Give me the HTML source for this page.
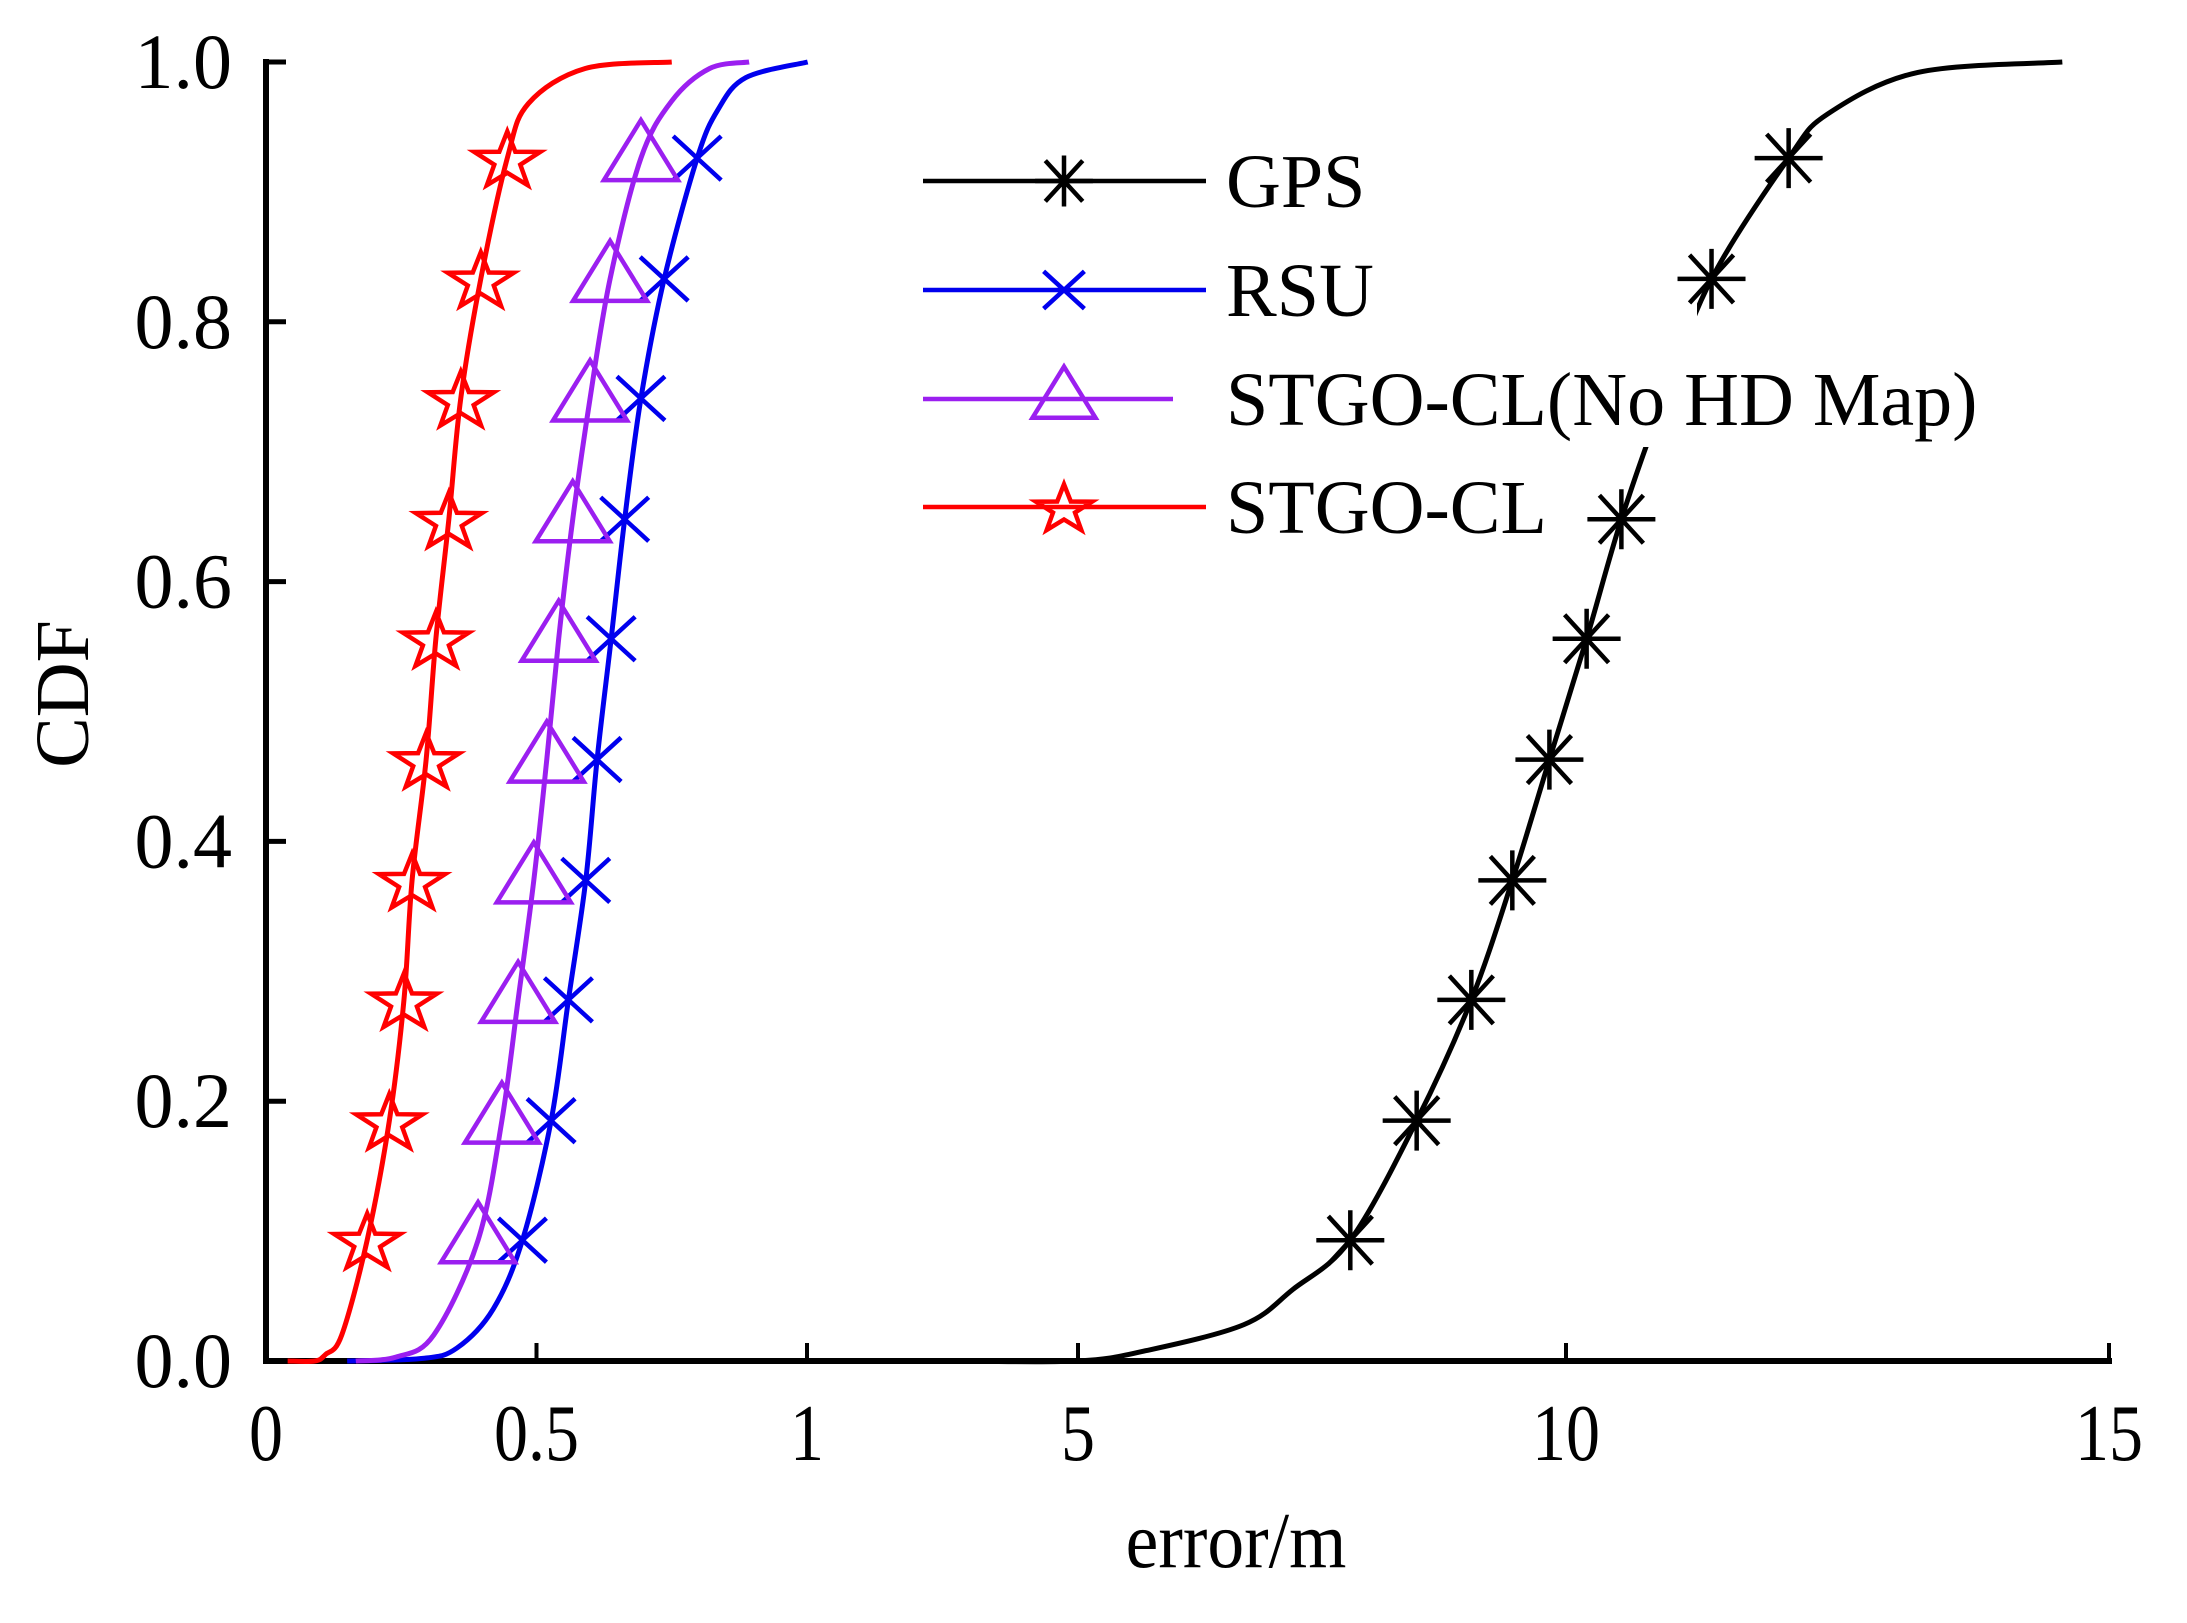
<!DOCTYPE html>
<html><head><meta charset="utf-8"><style>
html,body{margin:0;padding:0;background:#fff;}
svg{display:block;font-family:"Liberation Serif",serif;}
</style></head><body>
<svg id="chart" width="2187" height="1623" viewBox="0 0 2187 1623" xmlns="http://www.w3.org/2000/svg">
<rect width="2187" height="1623" fill="#fff"/>
<g id="axes"></g>
<g id="series"></g>
<rect x="915" y="135" width="782" height="312" fill="#fff"/>
<g id="markers"></g>
<g id="legend"></g>
<text transform="translate(88,694) rotate(-90)" text-anchor="middle" font-size="76">CDF</text>
<text transform="translate(1236,1567) scale(0.92,1)" text-anchor="middle" font-size="80">error/m</text>
</svg>
<script>
// ---- data ----
const xTickValues = [0, 0.5, 1, 5, 10, 15];
const xTickLabels = ["0", "0.5", "1", "5", "10", "15"];
const yTickValues = [0, 0.2, 0.4, 0.6, 0.8, 1.0];
const yTickLabels = ["0.0", "0.2", "0.4", "0.6", "0.8", "1.0"];
const markerLevels = [0.093, 0.185, 0.278, 0.37, 0.463, 0.556, 0.648, 0.741, 0.833, 0.926];
const gpsMarkerLevels = [0.093, 0.185, 0.278, 0.37, 0.463, 0.556, 0.648, 0.833, 0.926];

const gpsCdf = [0, 0, 0.008, 0.028, 0.055, 0.093, 0.185, 0.278, 0.37, 0.463, 0.556, 0.648, 0.741, 0.833, 0.926, 0.96, 0.992, 1];
const gpsErr = [3.15, 5, 5.7, 6.7, 7.2, 7.79, 8.47, 9.03, 9.45, 9.83, 10.19, 10.51, 10.9, 11.34, 12.05, 12.41, 13.24, 14.57];
const gpsMarkerErr = [7.79, 8.47, 9.03, 9.45, 9.83, 10.19, 10.51, 11.34, 12.05];

const rsuCdf = [0, 0.002, 0.01, 0.04, 0.093, 0.185, 0.278, 0.37, 0.463, 0.556, 0.648, 0.741, 0.833, 0.926, 0.963, 0.988, 1];
const rsuErr = [0.15, 0.29, 0.353, 0.42, 0.474, 0.527, 0.559, 0.591, 0.612, 0.638, 0.663, 0.693, 0.736, 0.797, 0.835, 0.887, 1.01];
const rsuMarkerErr = [0.474, 0.527, 0.559, 0.591, 0.612, 0.638, 0.663, 0.693, 0.736, 0.797];

const noMapCdf = [0, 0.003, 0.02, 0.093, 0.185, 0.278, 0.37, 0.463, 0.556, 0.648, 0.741, 0.833, 0.926, 0.97, 0.995, 1];
const noMapErr = [0.166, 0.24, 0.31, 0.392, 0.436, 0.466, 0.495, 0.519, 0.541, 0.567, 0.599, 0.636, 0.693, 0.75, 0.82, 0.893];
const noMapMarkerErr = [0.392, 0.436, 0.466, 0.495, 0.519, 0.541, 0.567, 0.599, 0.636, 0.693];

const stgoCdf = [0, 0, 0.005, 0.02, 0.093, 0.185, 0.278, 0.37, 0.463, 0.556, 0.648, 0.741, 0.833, 0.926, 0.968, 0.995, 1];
const stgoErr = [0.04, 0.09, 0.11, 0.14, 0.187, 0.228, 0.255, 0.270, 0.296, 0.314, 0.338, 0.360, 0.397, 0.446, 0.485, 0.59, 0.75];
const stgoMarkerErr = [0.187, 0.228, 0.255, 0.270, 0.296, 0.314, 0.338, 0.360, 0.397, 0.446];

// ---- scales ----
const xBreaks = [0, 1, 5, 10, 15];
const xBreakPx = [266, 807, 1078, 1566, 2109];
function xs(v){
  for(let i=0;i<xBreaks.length-1;i++){
    if(v<=xBreaks[i+1]||i===xBreaks.length-2){
      const t=(v-xBreaks[i])/(xBreaks[i+1]-xBreaks[i]);
      return xBreakPx[i]+t*(xBreakPx[i+1]-xBreakPx[i]);
    }
  }
}
const Y0=1361, Y1=62;
function ys(v){return Y0-(Y0-Y1)*v;}

const NS="http://www.w3.org/2000/svg";
function mk(tag,attrs,parent){const e=document.createElementNS(NS,tag);for(const k in attrs)e.setAttribute(k,attrs[k]);parent.appendChild(e);return e;}

function smoothPath(pts){
  let d="M"+pts[0][0]+","+pts[0][1];
  for(let i=0;i<pts.length-1;i++){
    const p0=pts[Math.max(0,i-1)],p1=pts[i],p2=pts[i+1],p3=pts[Math.min(pts.length-1,i+2)];
    const c1=[p1[0]+(p2[0]-p0[0])/6,p1[1]+(p2[1]-p0[1])/6];
    const c2=[p2[0]-(p3[0]-p1[0])/6,p2[1]-(p3[1]-p1[1])/6];
    d+=" C"+c1[0]+","+c1[1]+" "+c2[0]+","+c2[1]+" "+p2[0]+","+p2[1];
  }
  return d;
}

function marker(type,cx,cy,color,parent,scale){
  const s=scale||1;
  const g=mk("g",{fill:"none",stroke:color,"stroke-width":4.5},parent);
  if(type==="star"){
    let pts=[];
    for(let i=0;i<10;i++){
      const a=-Math.PI/2+i*Math.PI/5;const r=(i%2?13:33)*s;
      pts.push((cx+r*Math.cos(a)*1.05).toFixed(1)+","+(cy+r*Math.sin(a)*0.9+3*s).toFixed(1));
    }
    mk("polygon",{points:pts.join(" ")},g);
  }else if(type==="tri"){
    mk("polygon",{points:`${cx},${cy-38*s} ${cx+37*s},${cy+22*s} ${cx-37*s},${cy+22*s}`},g);
  }else if(type==="x"){
    mk("path",{d:`M${cx-24*s},${cy-22*s}L${cx+24*s},${cy+22*s}M${cx-24*s},${cy+22*s}L${cx+24*s},${cy-22*s}`},g);
  }else{
    mk("path",{d:`M${cx-34*s},${cy}L${cx+34*s},${cy}M${cx-22*s},${cy-24*s}L${cx+22*s},${cy+24*s}M${cx-22*s},${cy+24*s}L${cx+22*s},${cy-24*s}M${cx},${cy-30*s}L${cx},${cy+30*s}`},g);
  }
  return g;
}

const seriesG=document.getElementById("series");
const markersG=document.getElementById("markers");
const allSeries=[
  {name:"gps",color:"#000",cdf:gpsCdf,err:gpsErr,m:gpsMarkerErr,lv:gpsMarkerLevels,type:"ast"},
  {name:"rsu",color:"#0000ee",cdf:rsuCdf,err:rsuErr,m:rsuMarkerErr,lv:markerLevels,type:"x"},
  {name:"stgo-cl-no-hd-map",color:"#9b1ff0",cdf:noMapCdf,err:noMapErr,m:noMapMarkerErr,lv:markerLevels,type:"tri"},
  {name:"stgo-cl",color:"#ff0000",cdf:stgoCdf,err:stgoErr,m:stgoMarkerErr,lv:markerLevels,type:"star"}
];
allSeries.forEach(s=>{
  const g=mk("g",{},seriesG);
  
  
  const pts=s.err.map((e,i)=>[xs(e),ys(s.cdf[i])]);
  const p=mk("path",{d:smoothPath(pts),fill:"none",stroke:s.color,"stroke-width":5,"stroke-linejoin":"round"},g);
  
  
  const mgAll=mk("g",{},markersG);
  
  
  s.m.forEach((e,i)=>{
    const mg=marker(s.type,xs(e),ys(s.lv[i]),s.color,mgAll);
    
    
  });
});

// legend
const legG=document.getElementById("legend");
const legendLabels=["GPS","RSU","STGO-CL(No HD Map)","STGO-CL"];
const legendY=[181,290,399,507];
const legendEnd=[1206,1206,1173,1206];
allSeries.forEach((s,i)=>{
  const g=mk("g",{},legG);
  
  
  mk("line",{x1:923,y1:legendY[i],x2:legendEnd[i],y2:legendY[i],stroke:s.color,"stroke-width":4.5},g);
  marker(s.type,1064,legendY[i],s.color,g,0.85);
  const t=mk("text",{x:1226,y:legendY[i]+26,"font-size":76,fill:"#000"},g);
  t.textContent=legendLabels[i];
});

// axes
const ax=document.getElementById("axes");
const yAxis=mk("line",{x1:266,y1:Y1-3,x2:266,y2:Y0+3,stroke:"#000","stroke-width":6},ax);


const xAxis=mk("line",{x1:263,y1:Y0,x2:2112,y2:Y0,stroke:"#000","stroke-width":6},ax);


yTickValues.forEach((v,i)=>{
  mk("line",{x1:266,y1:ys(v),x2:286,y2:ys(v),stroke:"#000","stroke-width":5},ax);
  const t=mk("text",{x:232,y:ys(v)+26,"font-size":78,"text-anchor":"end"},ax);
  
  
  t.textContent=yTickLabels[i];
});
xTickValues.forEach((v,i)=>{
  const x=xs(v);
  if(i>0) mk("line",{x1:x,y1:Y0,x2:x,y2:Y0-18,stroke:"#000","stroke-width":4},ax);
  const t=mk("text",{transform:`translate(${x},1460) scale(0.85,1)`,"font-size":80,"text-anchor":"middle"},ax);
  
  
  t.textContent=xTickLabels[i];
});
</script>
</body></html>
